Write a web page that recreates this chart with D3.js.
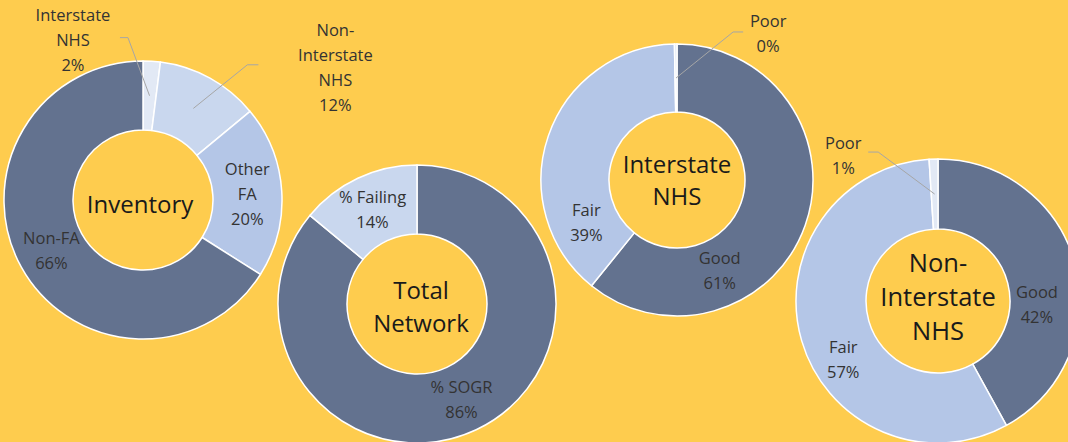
<!DOCTYPE html>
<html>
<head>
<meta charset="utf-8">
<script src="https://cdn.jsdelivr.net/npm/d3@7"></script>
<style>
  html, body { margin: 0; padding: 0; background: #FECC4E; }
  svg { display: block; }
</style>
</head>
<body>
<svg id="chart" width="1068" height="442"></svg>
<script>
// ---------- DATA ----------
const inventoryCategories = ["Interstate\nNHS", "Non-\nInterstate\nNHS", "Other\nFA", "Non-FA"];
const inventoryValues = [2, 12, 20, 66];

const totalNetworkCategories = ["% SOGR", "% Failing"];
const totalNetworkValues = [86, 14];

const interstateCategories = ["Good", "Fair", "Poor"];
const interstateValues = [61, 39, 0.3];

const nonInterstateCategories = ["Good", "Fair", "Poor"];
const nonInterstateValues = [42, 57, 1];

const chartTitles = ["Inventory", "Total\nNetwork", "Interstate\nNHS", "Non-\nInterstate\nNHS"];

// ---------- LAYOUT / STYLE ----------
const C_DARK = "#63728F", C_MID = "#B4C6E7", C_LIGHT = "#C9D7EE", C_PALE = "#E2E9F5";
const charts = [
  { cats: inventoryCategories, vals: inventoryValues, title: chartTitles[0],
    cx: 143, cy: 200, R: 139, r: 70, colors: [C_PALE, C_LIGHT, C_MID, C_DARK],
    titleSize: 24, titleLH: 32, titleDy: 3, titleDx: -3,
    labels: [
      { ang: 336.4, rad: 175, leader: { dx: 47, dy: -2, elbow: 8 } },
      { ang: 55.3, rad: 234, leader: { dx: -77, dy: -2, elbow: -11 } },
      null, null ] },
  { cats: totalNetworkCategories, vals: totalNetworkValues, title: chartTitles[1],
    cx: 417, cy: 304, R: 139, r: 70, colors: [C_DARK, C_LIGHT],
    titleSize: 24, titleLH: 33, titleDy: 2, titleDx: 4,
    labels: [null, null] },
  { cats: interstateCategories, vals: interstateValues, title: chartTitles[2],
    cx: 677, cy: 180, R: 136, r: 68, colors: [C_DARK, C_MID, C_PALE],
    titleSize: 24, titleLH: 32, titleDy: -1, titleDx: 0,
    labels: [
      { ang: 154.7, rad: 100 },
      { ang: 245, rad: 100 },
      { ang: 31.8, rad: 173, leader: { dx: -25, dy: -1, elbow: -10 } } ] },
  { cats: nonInterstateCategories, vals: nonInterstateValues, title: chartTitles[3],
    cx: 938, cy: 301, R: 142, r: 72, colors: [C_DARK, C_MID, C_PALE],
    titleSize: 25.5, titleLH: 34, titleDy: -5, titleDx: 0,
    labels: [
      { ang: 92, rad: 99 },
      { ang: 238.6, rad: 111 },
      { ang: 327, rad: 174, leader: { dx: 25, dy: -3, elbow: 10 } } ] }
];

const FONT = "'Open Sans', Lato, sans-serif";
const LABEL_SIZE = 16.5, LABEL_LH = 25;

const svg = d3.select("#chart");
svg.append("rect").attr("width", 1068).attr("height", 442).attr("fill", "#FECC4E");

const pie = d3.pie().sort(null).value(d => d.v);

function drawLines(g, lines, x, y, size, lh, color) {
  const t = g.append("text")
    .attr("text-anchor", "middle")
    .attr("font-family", FONT)
    .attr("font-size", size)
    .attr("fill", color);
  const n = lines.length;
  lines.forEach((ln, i) => {
    t.append("tspan")
      .attr("x", x)
      .attr("y", y + (i - (n - 1) / 2) * lh)
      .attr("dominant-baseline", "central")
      .text(ln);
  });
}

charts.forEach(ch => {
  const data = ch.vals.map((v, i) => ({ v, cat: ch.cats[i], i }));
  const arcs = pie(data);
  const arc = d3.arc().innerRadius(ch.r).outerRadius(ch.R);
  const g = svg.append("g").attr("transform", `translate(${ch.cx},${ch.cy})`);

  g.selectAll("path.slice").data(arcs).join("path")
    .attr("class", "slice")
    .attr("d", arc)
    .attr("fill", d => ch.colors[d.data.i])
    .attr("stroke", "#ffffff")
    .attr("stroke-width", 1.5)
    .attr("stroke-linejoin", "round");

  // slice labels
  arcs.forEach((a, k) => {
    const lay = ch.labels[k];
    const pct = Math.round(a.data.v) + "%";
    const lines = a.data.cat.split("\n").concat([pct]);
    let lx, ly;
    if (lay) {
      const rad = lay.ang * Math.PI / 180;
      lx = Math.sin(rad) * lay.rad;
      ly = -Math.cos(rad) * lay.rad;
    } else {
      [lx, ly] = arc.centroid(a);
    }
    if (lay && lay.leader) {
      const [ex, ey] = arc.centroid(a);
      const sx = lx + lay.leader.dx, sy = ly + lay.leader.dy;
      g.append("polyline")
        .attr("points", [[sx, sy], [sx + lay.leader.elbow, sy], [ex, ey]].map(p => p.join(",")).join(" "))
        .attr("fill", "none")
        .attr("stroke", "#A6A6A6")
        .attr("stroke-width", 1);
    }
    drawLines(g, lines, lx, ly, LABEL_SIZE, LABEL_LH, "#333333");
  });

  // center title
  drawLines(g, ch.title.split("\n"), ch.titleDx, ch.titleDy, ch.titleSize, ch.titleLH, "#1A1A1A");
});
</script>
</body>
</html>
